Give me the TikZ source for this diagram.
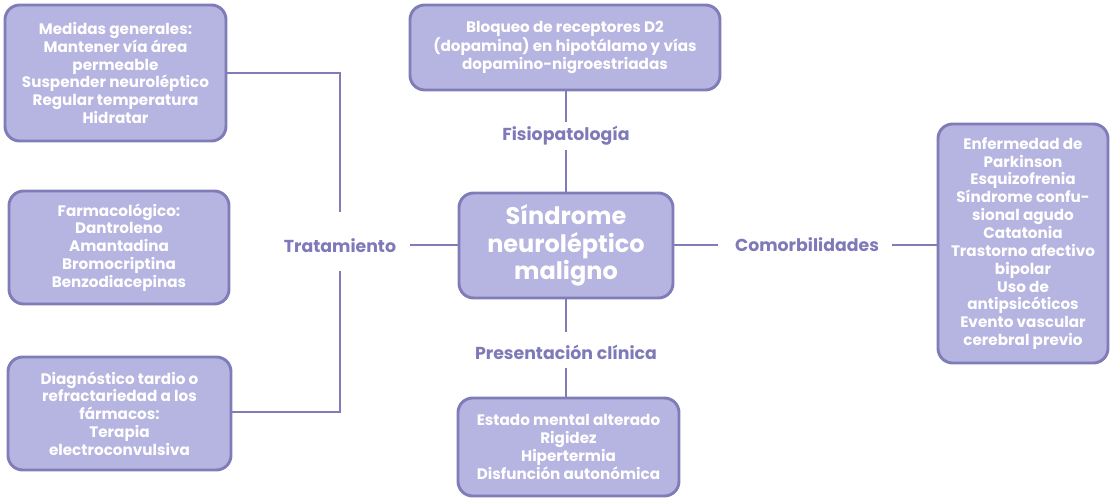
\documentclass[tikz,border=0pt]{standalone}
\usepackage{fontspec}
\setmainfont{Poppins}
\definecolor{boxfill}{HTML}{B6B4E0}
\definecolor{boxline}{HTML}{807CB8}
\definecolor{labtext}{HTML}{7E79B8}
\begin{document}
\begin{tikzpicture}[x=0.75pt,y=-0.75pt,
  box/.style={draw=boxline,line width=2.2pt,fill=boxfill,rounded corners=11pt,
    align=center,text=white,font=\bfseries\fontsize{11.4}{13.4}\selectfont,inner sep=0pt},
  lab/.style={text=labtext,font=\bfseries\fontsize{13}{15}\selectfont,inner sep=0pt},
  conn/.style={draw=boxline,line width=2pt}]
\useasboundingbox (0,0) rectangle (1114,498);
% boxes
\node[box,minimum width=165.75pt,minimum height=102pt] (A) at (115.5,73)
  {Medidas generales:\\Mantener vía área\\permeable\\Suspender neuroléptico\\Regular temperatura\\Hidratar};
\node[box,minimum width=165pt,minimum height=84.75pt] (B) at (119,247.5)
  {Farmacológico:\\Dantroleno\\Amantadina\\Bromocriptina\\Benzodiacepinas};
\node[box,minimum width=167.25pt,minimum height=84.75pt] (C) at (119.5,413.5)
  {Diagnóstico tardio o\\refractariedad a los\\fármacos:\\Terapia\\electroconvulsiva};
\node[box,minimum width=232.5pt,minimum height=63.75pt] (D) at (565,47.5)
  {Bloqueo de receptores D2\\(dopamina) en hipotálamo y vías\\dopamino-nigroestriadas};
\node[box,minimum width=160.5pt,minimum height=78.75pt,font=\bfseries\fontsize{18}{20.5}\selectfont] (M) at (566,245.5)
  {Síndrome\\neuroléptico\\maligno};
\node[box,minimum width=165.75pt,minimum height=73.5pt] (E) at (568.5,447)
  {Estado mental alterado\\Rigidez\\Hipertermia\\Disfunción autonómica};
\node[box,minimum width=127.5pt,minimum height=179.25pt] (F) at (1023,243.5)
  {Enfermedad de\\Parkinson\\Esquizofrenia\\Síndrome confu-\\sional agudo\\Catatonia\\Trastorno afectivo\\bipolar\\Uso de\\antipsicóticos\\Evento vascular\\cerebral previo};
% labels
\node[lab] (trat) at (340,246) {Tratamiento};
\node[lab] (fisio) at (566,136) {Fisiopatología};
\node[lab] (pres) at (566,352) {Presentación clínica};
\node[lab] (como) at (807,245) {Comorbilidades};
% connector ends
\coordinate (t1) at (340,73);
\coordinate (t2) at (340,212);
\coordinate (t3) at (340,271);
\coordinate (t4) at (340,412);
\coordinate (t5) at (410,245);
\coordinate (f1) at (566,122);
\coordinate (f2) at (566,150);
\coordinate (p1) at (566,332);
\coordinate (p2) at (566,368);
\coordinate (c1) at (718,245);
\coordinate (c2) at (892,245);
% connectors
\draw[conn] (A.east |- t1) -- (t1) -- (t2);
\draw[conn] (C.east |- t4) -- (t4) -- (t3);
\draw[conn] (t5) -- (M.west |- t5);
\draw[conn] (D.south -| f1) -- (f1);
\draw[conn] (f2) -- (M.north -| f2);
\draw[conn] (M.south -| p1) -- (p1);
\draw[conn] (p2) -- (E.north -| p2);
\draw[conn] (M.east |- c1) -- (c1);
\draw[conn] (c2) -- (F.west |- c2);
\end{tikzpicture}
\end{document}
